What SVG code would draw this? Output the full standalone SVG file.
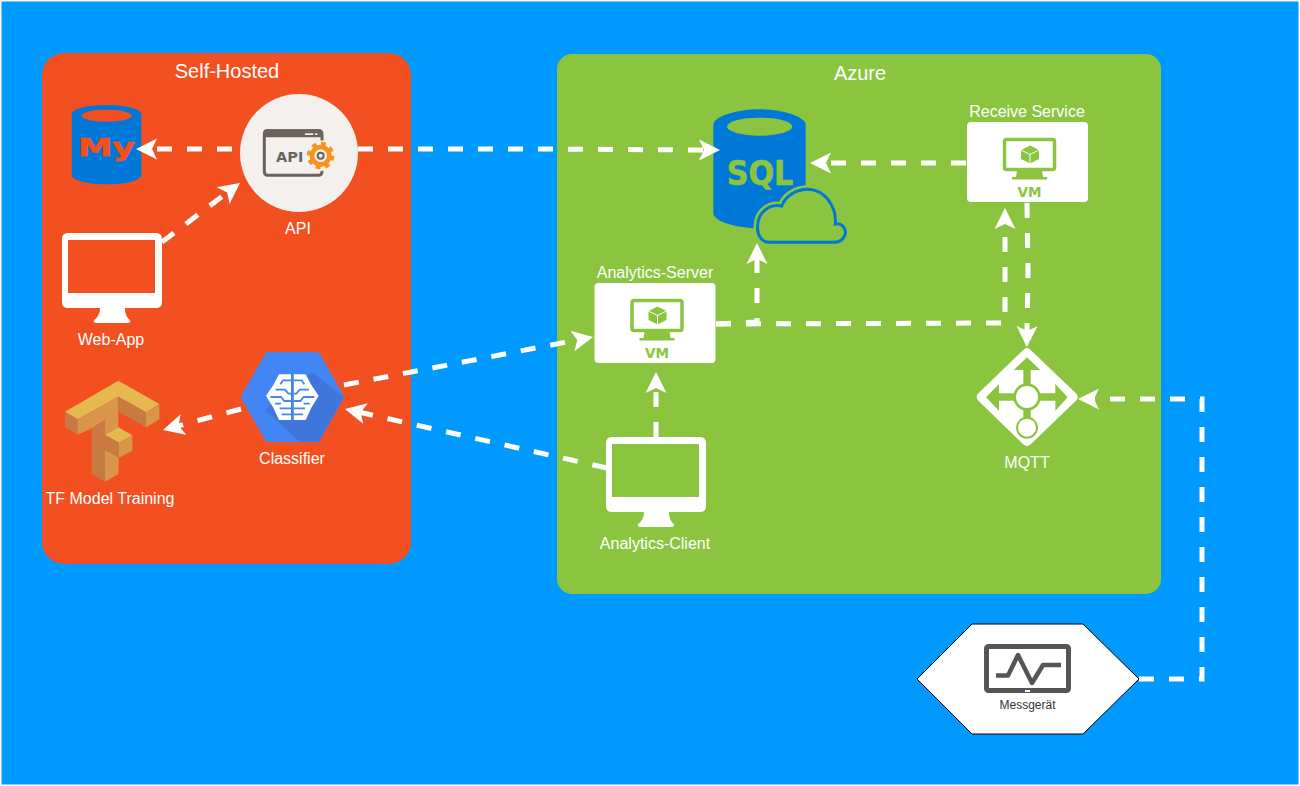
<svg xmlns="http://www.w3.org/2000/svg" width="1300" height="786" viewBox="0 0 1300 786">
<style>
text{font-family:"Liberation Sans",Arial,sans-serif}
.lbl{fill:#fff;font-size:16px;text-anchor:middle}
.title{fill:#fff;font-size:20px;text-anchor:middle}
.conn{fill:none;stroke:#fff;stroke-width:5;stroke-dasharray:15 15;marker-end:url(#arrow)}
.vm{fill:#8bc53f;font-size:14px;font-weight:bold;font-family:"DejaVu Sans",sans-serif}
.heavy{font-family:"DejaVu Sans",sans-serif;font-weight:bold}
</style>
<defs>
<marker id="arrow" markerUnits="userSpaceOnUse" markerWidth="24" markerHeight="24" refX="5" refY="12" orient="auto">
<path d="M21,12 L0,1.500 L5,12 L0,22.500Z" fill="#fff"/>
</marker>
<path id="monitor" fill="#fff" fill-rule="evenodd" d="M6,0H94Q100,0 100,6V69Q100,75 94,75H63C63,82 66,86 68,87Q69,90 66,90H34Q31,90 32,87C34,86 38,82 38,75H6Q0,75 0,69V6Q0,0 6,0ZM6,7V60H93V7Z"/>
<g id="vmbox">
<rect width="121" height="80" rx="4" fill="#fff"/>
<rect x="37.500" y="17.500" width="50" height="30" rx="2" fill="none" stroke="#8bc53f" stroke-width="3.500"/>
<path d="M50,49H75L76,55H80V57.500H45V55H49Z" fill="#8bc53f"/>
<path d="M63,23.500L72,28V37L63,41.500L54,37V28Z" fill="#8bc53f"/>
<path d="M54,28L63,32.500L72,28M63,32.500V41.500" fill="none" stroke="#fff" stroke-width="1"/>
<text class="vm" x="50.500" y="75" textLength="24" lengthAdjust="spacingAndGlyphs">VM</text>
</g>
<clipPath id="hexclip"><polygon points="241,397 266,352 319,352 344,397 319,442 266,442"/></clipPath>
</defs>

<rect width="1300" height="786" fill="#fff"/>
<rect x="1.500" y="1.500" width="1297" height="783" fill="#0099ff"/>

<g id="self-hosted">
<rect x="42" y="53" width="369" height="511" rx="22" fill="#f35022"/>
<text class="title" x="227" y="78">Self-Hosted</text>
</g>
<g id="azure">
<rect x="557" y="54" width="604" height="540" rx="15" fill="#8bc53f"/>
<text class="title" x="860" y="80">Azure</text>
</g>

<g id="mysql" transform="translate(40 50) scale(.33333)">
<path d="M95,193C95,175 150,165 200,165C250,165 304,175 304,193V375C304,393 250,403 200,403C150,403 95,393 95,375Z" fill="#0078d7"/>
<ellipse cx="200" cy="197" rx="75" ry="18" fill="#f35022"/>
<text class="heavy" x="113" y="318" font-size="76" fill="#f35022" stroke="#f35022" stroke-width="2" textLength="172" lengthAdjust="spacingAndGlyphs">My</text>
</g>

<g id="api">
<circle cx="299" cy="153" r="59" fill="#f4f0ee"/>
<g transform="translate(40 50) scale(.33333)">
<rect x="673" y="242" width="173" height="134" rx="10" fill="none" stroke="#6b625c" stroke-width="9"/>
<rect x="670" y="238" width="178" height="24" rx="10" fill="#6b625c"/>
<rect x="795" y="250" width="25" height="5" fill="#f4f0ee"/>
<rect x="825" y="250" width="7" height="5" fill="#f4f0ee"/>
<text class="heavy" x="708" y="335" font-size="42" fill="#6b625c" textLength="82" lengthAdjust="spacingAndGlyphs">API</text>
<circle cx="842" cy="317" r="46" fill="#f4f0ee"/>
<circle cx="842" cy="317" r="26" fill="none" stroke="#f7931e" stroke-width="14"/>
<circle cx="842" cy="317" r="36" fill="none" stroke="#f7931e" stroke-width="11" stroke-dasharray="14.200 14.070"/>
<circle cx="842" cy="317" r="9" fill="none" stroke="#6b625c" stroke-width="6"/>
</g>
<text class="lbl" x="298" y="234">API</text>
</g>

<g id="web-app">
<use href="#monitor" x="62" y="233"/>
<text class="lbl" x="111" y="345">Web-App</text>
</g>

<g id="classifier">
<polygon points="244,397 268,355 317,355 341,397 317,439 268,439" fill="#4285f4" stroke="#4285f4" stroke-width="6" stroke-linejoin="round"/>
<polygon points="312,372 344,397 320,442 300,442 265,410" fill="#3f76dc" clip-path="url(#hexclip)"/>
<g transform="translate(255 365) scale(.33333)">
<g id="brain-half">
<polygon points="108,28 72,28 55,60 33,92 55,128 72,165 108,165" fill="#fff"/>
<path d="M108,46H84L76,58M62,74H90L100,86H108M46,96H78L88,108H108M60,116H78M74,130H108M80,148H108" fill="none" stroke="#4285f4" stroke-width="5.500"/>
</g>
<use href="#brain-half" transform="translate(224 0) scale(-1 1)"/>
<path d="M112,28V165" stroke="#4285f4" stroke-width="6"/>
</g>
<text class="lbl" x="292" y="464">Classifier</text>
</g>

<g id="tf-training">
<g transform="translate(40 330) scale(.33333)">
<polygon points="75,245 235,152 358,222 318,247 235,200 113,268" fill="#e5b850"/>
<polygon points="75,245 113,268 113,314 75,290" fill="#c97a42"/>
<polygon points="113,268 235,200 235,292 195,315 195,270 155,295 113,314" fill="#d9954a"/>
<polygon points="235,200 318,247 318,292 235,245" fill="#c97a42"/>
<polygon points="318,247 358,222 358,268 318,292" fill="#d9954a"/>
<polygon points="155,295 195,270 195,455 155,432" fill="#c97a42"/>
<polygon points="195,360 237,383 235,432 195,455" fill="#d9954a"/>
<polygon points="195,315 235,292 277,316 237,338" fill="#e5b850"/>
<polygon points="195,315 237,338 237,383 195,360" fill="#c97a42"/>
<polygon points="237,338 277,316 277,362 237,383" fill="#d9954a"/>
</g>
<text class="lbl" x="110" y="504">TF Model Training</text>
</g>

<g id="sql">
<g transform="translate(690 90) scale(.33333)">
<path d="M70,105C70,80 140,58 208,58C276,58 347,80 347,105V370C347,395 276,415 208,415C140,415 70,395 70,370Z" fill="#0078d7"/>
<ellipse cx="209" cy="110" rx="98" ry="27" fill="#8bc53f"/>
<text class="heavy" x="110" y="285" font-size="100" fill="#8bc53f" stroke="#8bc53f" stroke-width="2" textLength="200" lengthAdjust="spacingAndGlyphs">SQL</text>
<path d="M238,457H430C455,457 468,440 466,425C464,408 450,398 436,402C440,350 405,300 355,298C315,298 285,320 275,348C240,340 205,365 203,405C200,435 215,457 238,457Z" fill="#8bc53f" stroke="#8bc53f" stroke-width="24"/>
<path d="M238,457H430C455,457 468,440 466,425C464,408 450,398 436,402C440,350 405,300 355,298C315,298 285,320 275,348C240,340 205,365 203,405C200,435 215,457 238,457Z" fill="#8bc53f" stroke="#0078d7" stroke-width="9"/>
</g>
</g>

<g id="receive-service">
<use href="#vmbox" x="967" y="122"/>
<text class="lbl" x="1027" y="117">Receive Service</text>
</g>

<g id="analytics-server">
<use href="#vmbox" x="594.500" y="283"/>
<text class="lbl" x="655" y="278">Analytics-Server</text>
</g>

<g id="analytics-client">
<use href="#monitor" x="606" y="437"/>
<text class="lbl" x="655" y="549">Analytics-Client</text>
</g>

<g id="mqtt">
<g transform="translate(900 310) scale(.33333)">
<polygon points="381,130 518,261 381,393 245,261" fill="#fff" stroke="#fff" stroke-width="30" stroke-linejoin="round"/>
<path d="M381,261V160M381,261H280M381,261H480M381,261V340" fill="none" stroke="#8bc53f" stroke-width="22"/>
<path d="M381,142L421,180H341ZM258,262L297,222V302ZM503,262L466,222V302Z" fill="#8bc53f"/>
<circle cx="381" cy="261" r="41" fill="#8bc53f"/>
<circle cx="381" cy="261" r="33" fill="#fff"/>
<circle cx="381" cy="353" r="33" fill="#8bc53f"/>
<circle cx="381" cy="353" r="27" fill="#fff"/>
</g>
<text class="lbl" x="1027" y="468">MQTT</text>
</g>

<g id="messgeraet">
<polygon points="917,679 972,624 1083,624 1139,679 1083,734 972,734" fill="#fff" stroke="#000" stroke-width="1"/>
<rect x="986.500" y="646.500" width="82" height="44" rx="2" fill="none" stroke="#555" stroke-width="5"/>
<rect x="1025" y="690" width="5" height="2" fill="#fff"/>
<path d="M996,675.500H1008L1018,655L1032,683L1043,665H1061" fill="none" stroke="#555" stroke-width="4.500" stroke-linejoin="round"/>
<text x="1027.500" y="709" font-size="12" fill="#333" text-anchor="middle">Messgerät</text>
</g>

<g id="connectors">
<path class="conn" d="M232,149H152"/>
<path class="conn" d="M162,242L227.200,192.600"/>
<path class="conn" d="M358,149L535,149L704,150"/>
<path class="conn" d="M966,163H826"/>
<path class="conn" d="M1027,203L1028,270L1027,331"/>
<path class="conn" d="M716,324L757,322V259"/>
<path class="conn" d="M716,324L1005,323V224"/>
<path class="conn" d="M656,437V388"/>
<path class="conn" d="M607,468L360.600,412.500"/>
<path class="conn" d="M344,385L577.300,340"/>
<path class="conn" d="M241,409L178.500,425.800"/>
<path class="conn" d="M1139,679H1202V399H1094"/>
</g>
</svg>
